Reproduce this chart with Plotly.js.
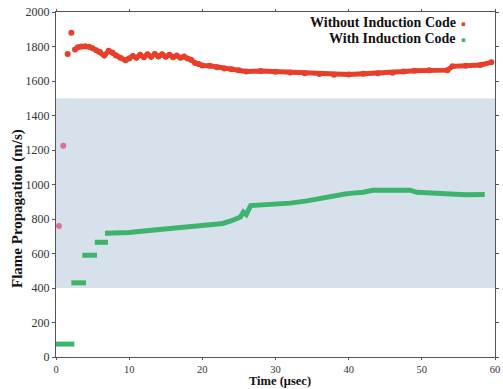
<!DOCTYPE html>
<html>
<head>
<meta charset="utf-8">
<script src="https://cdn.plot.ly/plotly-3.0.1.min.js"></script>
<style>
  html, body { margin: 0; padding: 0; background: #fff; }
  #chart { width: 503px; height: 389px; }
</style>
</head>
<body>
<div id="chart"></div>
<script>
// Flame propagation speed versus time, with and without the induction code.
const seriesNames = ['Without Induction Code', 'With Induction Code'];

// Without induction code (time in µs, speed in m/s)
const noIndTime = [0.4, 1.0, 1.6, 2.1, 2.6, 3.0, 3.5, 4.0, 4.5, 5.0, 5.5, 6.0, 6.6, 7.2, 7.7, 8.2, 8.8, 9.5,
  10.0, 10.5, 11.0, 11.5, 12.0, 12.5, 13.0, 13.5, 14.0, 14.5, 15.0, 15.5, 16.0, 16.5, 17.0, 17.5, 18.0, 18.5,
  19.0, 19.5, 20.0, 21.0, 22.0, 23.0, 24.0, 25.0, 26.0, 28.0, 30.0, 32.0, 34.0, 36.0, 38.0, 40.0, 42.0, 44.0,
  46.0, 47.5, 49.0, 51.0, 53.5, 54.2, 56.0, 58.0, 59.5];
const noIndSpeed = [760, 1225, 1757, 1880, 1782, 1795, 1800, 1802, 1798, 1790, 1778, 1768, 1748, 1775, 1765, 1748, 1735, 1720,
  1730, 1745, 1735, 1752, 1738, 1755, 1740, 1757, 1742, 1755, 1740, 1752, 1738, 1748, 1735, 1742, 1730, 1722,
  1705, 1698, 1690, 1688, 1680, 1672, 1668, 1662, 1655, 1658, 1654, 1650, 1645, 1640, 1636, 1638, 1642, 1645,
  1648, 1655, 1660, 1662, 1663, 1685, 1688, 1693, 1708];

// With induction code: early plateaus (null separates each plateau), then the continuous rise
const indTime = [0, 2.5, null, 2.1, 4.1, null, 3.6, 5.6, null, 5.3, 7.1, null,
  6.7, 8, 10, 12, 14, 16, 18, 19.7, 21, 22.8, 24, 25.2, 25.6, 26.0, 26.6, 28, 30, 32, 34.3, 36, 38, 39.5,
  40.6, 42, 43.3, 46, 48.4, 49.3, 51, 53.4, 56, 58.6];
const indSpeed = [75, 75, null, 430, 430, null, 590, 590, null, 665, 665, null,
  717, 718, 722, 730, 738, 742, 748, 757, 762, 774, 790, 812, 840, 826, 878, 880, 885, 892, 905, 920, 935, 945,
  950, 955, 967, 968, 967, 955, 950, 942, 940, 942];

// Shaded speed band (m/s)
const bandRange = [400, 1500];

const xTicks = [0, 10, 20, 30, 40, 50, 60];
const yTicks = [0, 200, 400, 600, 800, 1000, 1200, 1400, 1600, 1800, 2000];

const RED = '#e83e2a';
const PINK = '#e0709a';
const GREEN = '#3cb46c';
const serif = 'Liberation Serif, Times New Roman, serif';

// First few readings are isolated dots; the rest form a continuous trace.
const firstLinked = 4;
const traces = [
  {
    x: noIndTime.slice(0, firstLinked), y: noIndSpeed.slice(0, firstLinked),
    mode: 'markers', type: 'scatter', name: seriesNames[0], showlegend: false,
    marker: { size: 6, color: noIndTime.slice(0, firstLinked).map((t, i) => i < 2 ? PINK : RED) }
  },
  {
    x: noIndTime.slice(firstLinked), y: noIndSpeed.slice(firstLinked),
    mode: 'lines+markers', type: 'scatter', name: seriesNames[0], showlegend: false,
    line: { color: RED, width: 5 }, marker: { size: 6, color: RED }
  },
  {
    x: indTime, y: indSpeed, mode: 'lines', type: 'scatter', name: seriesNames[1], showlegend: false,
    connectgaps: false, line: { color: GREEN, width: 5 }
  }
];

const axisCommon = {
  showline: true, linecolor: '#555', linewidth: 1, mirror: 'ticks',
  showgrid: false, zeroline: false, ticks: 'outside', ticklen: 3, tickcolor: '#555',
  tickfont: { family: serif, size: 12, color: '#333' }
};

// Legend drawn as right-aligned labels followed by a small colored key mark
const legendRows = [
  { name: seriesNames[0], color: RED, y: 0.970 },
  { name: seriesNames[1], color: GREEN, y: 0.924 }
];
const legendAnn = [];
legendRows.forEach(r => {
  legendAnn.push({
    xref: 'paper', yref: 'paper', x: 0.915, y: r.y, xanchor: 'right', yanchor: 'middle', showarrow: false,
    text: '<b>' + r.name + '</b>', font: { family: serif, size: 14, color: '#111' }
  });
  legendAnn.push({
    xref: 'paper', yref: 'paper', x: 0.918, y: r.y - 0.004, xanchor: 'left', yanchor: 'middle', showarrow: false,
    text: '▪', font: { family: 'DejaVu Sans', size: 7, color: r.color }
  });
});

const layout = {
  width: 503, height: 389,
  margin: { l: 56, r: 8, t: 12, b: 32 },
  paper_bgcolor: '#fff', plot_bgcolor: '#fff',
  showlegend: false,
  xaxis: Object.assign({}, axisCommon, {
    range: [0, 60], tickvals: xTicks, ticktext: xTicks.map(String), ticklen: 2,
    tickfont: { family: serif, size: 10.5, color: '#333' }
  }),
  yaxis: Object.assign({}, axisCommon, {
    range: [0, 2000], tickvals: yTicks, ticktext: yTicks.map(String)
  }),
  shapes: [{
    type: 'rect', xref: 'paper', yref: 'y', x0: 0, x1: 1, y0: bandRange[0], y1: bandRange[1],
    fillcolor: '#d7e1ec', line: { width: 0 }, layer: 'below'
  }],
  annotations: legendAnn.concat([
    {
      xref: 'paper', yref: 'paper', x: -0.088, y: 0.43, textangle: -90, showarrow: false,
      xanchor: 'center', yanchor: 'middle',
      text: '<b>Flame Propagation (m/s)</b>',
      font: { family: serif, size: 15, color: '#111' }
    },
    {
      xref: 'paper', yref: 'paper', x: 0.51, y: -0.0696, showarrow: false,
      xanchor: 'center', yanchor: 'middle',
      text: '<b>Time (μsec)</b>',
      font: { family: serif, size: 12.5, color: '#111' }
    }
  ])
};

Plotly.newPlot('chart', traces, layout, { displayModeBar: false, staticPlot: true });
</script>
</body>
</html>
